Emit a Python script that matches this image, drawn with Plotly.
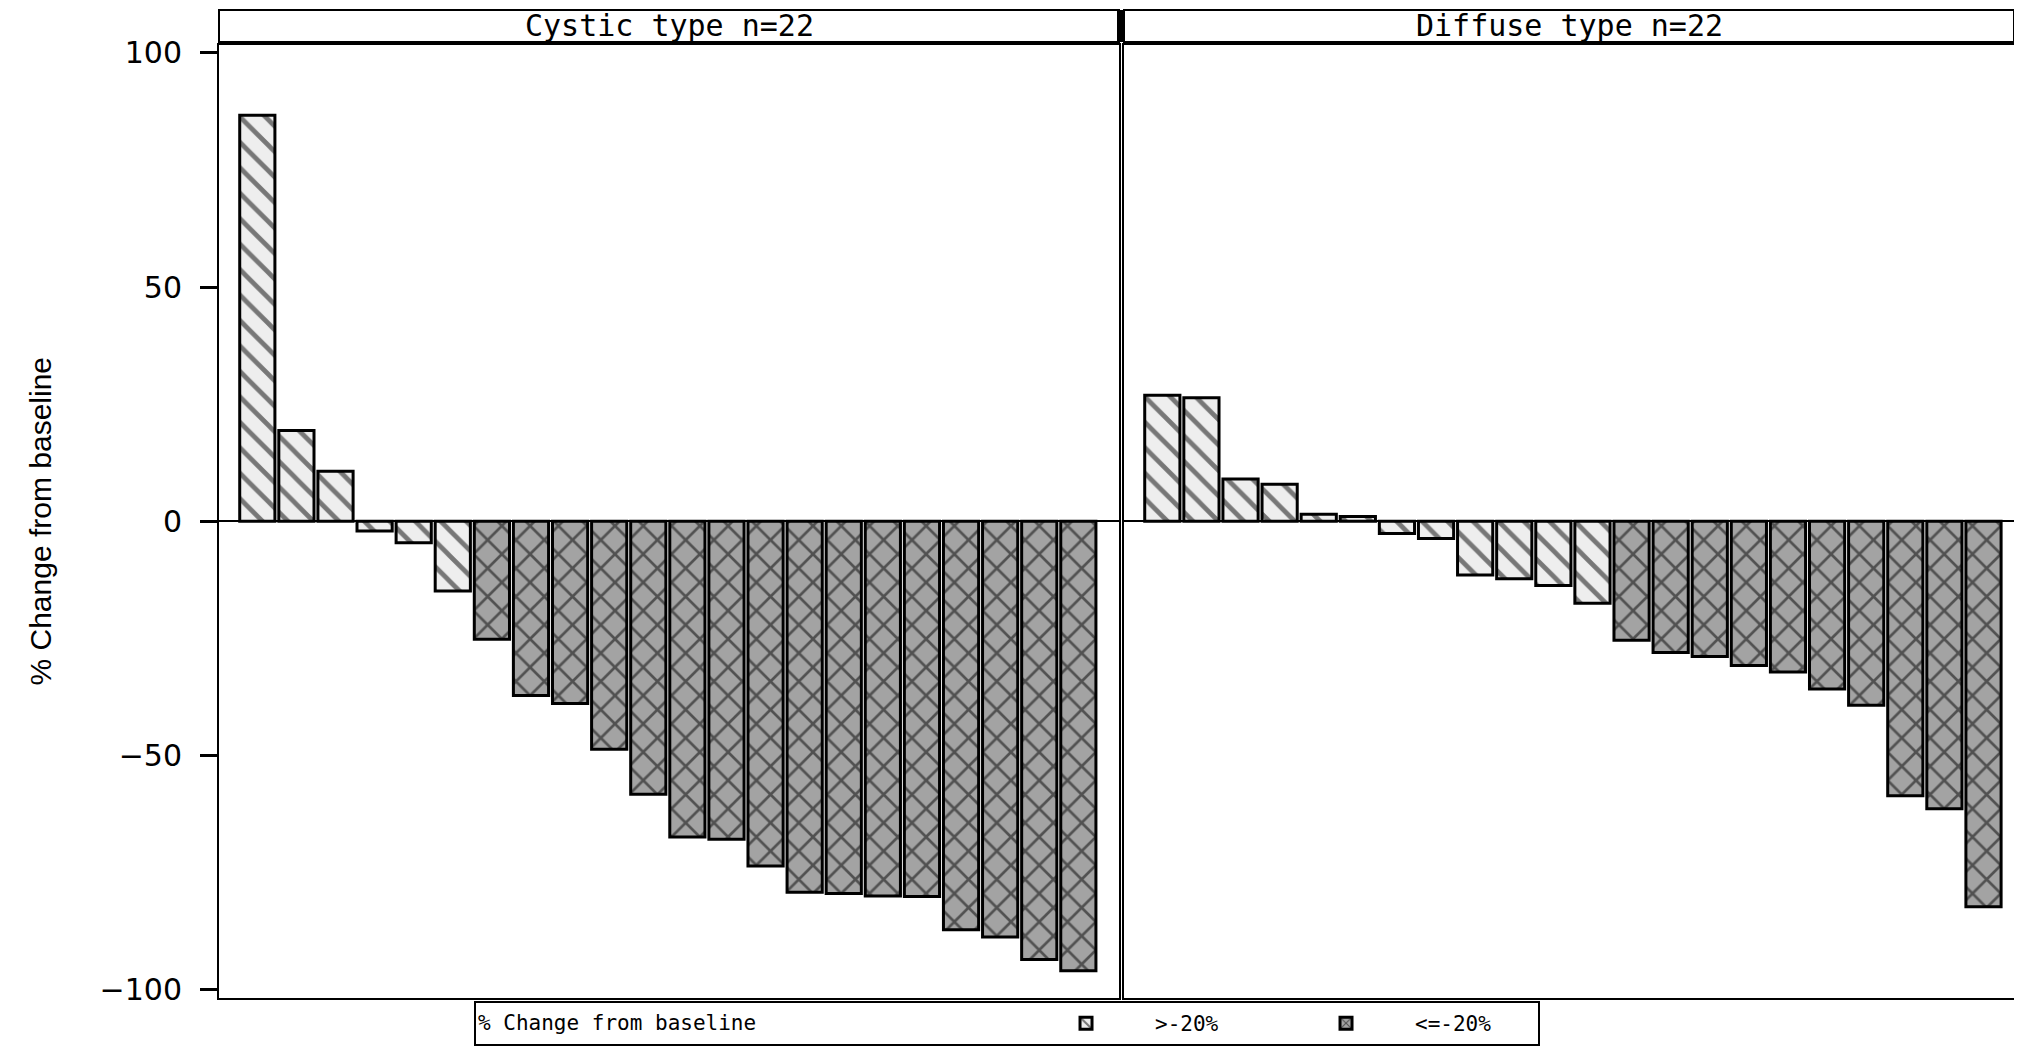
import plotly.graph_objects as go

# ---------------- data ----------------
panel_titles = ["Cystic type n=22", "Diffuse type n=22"]
cystic_change = [86.7, 19.4, 10.7, -2.1, -4.6, -14.9, -25.2, -37.2, -38.9, -48.7, -58.3,
                 -67.4, -67.9, -73.6, -79.2, -79.5, -80.0, -80.1, -87.2, -88.8, -93.6, -96.0]
diffuse_change = [26.9, 26.4, 9.0, 7.9, 1.5, 1.0, -2.6, -3.7, -11.5, -12.3, -13.7, -17.5,
                  -25.4, -28.0, -28.9, -30.8, -32.2, -35.8, -39.3, -58.6, -61.4, -82.3]
threshold = -20
category_labels = [">-20%", "<=-20%"]
legend_title = "% Change from baseline"
y_title = "% Change from baseline"
y_ticks = [-100, -50, 0, 50, 100]

# ---------------- styles ----------------
styles = {
    ">-20%": dict(color="#eeeeee",
                  pattern=dict(shape="\\", fgcolor="black", bgcolor="#eeeeee",
                               size=18, solidity=0.26),
                  line=dict(color="black", width=3)),
    "<=-20%": dict(color="#a3a3a3",
                   pattern=dict(shape="x", fgcolor="black", bgcolor="#a3a3a3",
                                size=20, solidity=0.25),
                   line=dict(color="black", width=3)),
}

fig = go.Figure()
series = [cystic_change, diffuse_change]
for p, values in enumerate(series):
    xa = "x" if p == 0 else "x2"
    ya = "y" if p == 0 else "y2"
    for c, lab in enumerate(category_labels):
        xs, ys = [], []
        for i, v in enumerate(values):
            is_low = v <= threshold
            if (c == 1) == is_low:
                xs.append(i + 1)
                ys.append(v)
        fig.add_trace(go.Bar(x=xs, y=ys, name=lab, legendgroup=lab,
                             showlegend=(p == 0), marker=styles[lab],
                             xaxis=xa, yaxis=ya))

# page body adds an 8px margin, so layout coords = reference coords - 8
W, H = 2006, 1038
ml, mr, mt, mb = 211, 0, 37, 48
pw = W - ml - mr
ph = H - mt - mb

left_dom = [0, 900 / pw]
right_dom = [905 / pw, 1]

axis_common = dict(showline=True, linecolor="black", linewidth=2, mirror=True,
                   showgrid=False)
fig.update_layout(
    width=W, height=H,
    margin=dict(l=ml, r=mr, t=mt, b=mb, autoexpand=False),
    paper_bgcolor="white", plot_bgcolor="white",
    bargap=0.1, barmode="overlay",
    xaxis=dict(domain=left_dom, range=[0.02, 23.04], showticklabels=False,
               ticks="", zeroline=False, **axis_common),
    xaxis2=dict(domain=right_dom, range=[0.02, 22.78], showticklabels=False,
                ticks="", zeroline=False, **axis_common),
    yaxis=dict(domain=[0, 1], range=[-101.8, 101.7], tickvals=y_ticks,
               ticks="outside", ticklen=17, tickwidth=2.5, tickcolor="black",
               ticklabelstandoff=12,
               tickfont=dict(family="DejaVu Sans", size=30, color="black"),
               zeroline=True, zerolinecolor="black", zerolinewidth=2,
               **axis_common),
    yaxis2=dict(domain=[0, 1], range=[-101.8, 101.7], anchor="x2",
                showticklabels=False, ticks="",
                zeroline=True, zerolinecolor="black", zerolinewidth=2,
                **axis_common),
    legend=dict(orientation="h", x=(466 - ml) / pw, xanchor="left",
                y=-(993 - (H - mb)) / ph, yanchor="top",
                bordercolor="black", borderwidth=2, bgcolor="white",
                font=dict(family="DejaVu Sans Mono", size=21, color="black"),
                title=dict(text=legend_title + "\u00a0" * 20, side="left",
                           font=dict(family="DejaVu Sans Mono", size=21, color="black")),
                traceorder="normal", itemwidth=128, entrywidth=117),
)

# strip headers
strip_bottom = 1 + 3 / ph
strip_top = 1 + 35 / ph
for dom, title in zip([left_dom, right_dom], panel_titles):
    fig.add_shape(type="rect", xref="paper", yref="paper",
                  x0=dom[0], x1=dom[1], y0=strip_bottom, y1=strip_top,
                  line=dict(color="black", width=2), fillcolor="white", layer="above")
    fig.add_annotation(xref="paper", yref="paper", x=(dom[0] + dom[1]) / 2,
                       y=(strip_bottom + strip_top) / 2, text=title, showarrow=False,
                       xanchor="center", yanchor="middle",
                       font=dict(family="DejaVu Sans Mono", size=30, color="black"))
fig.add_shape(type="rect", xref="paper", yref="paper",
              x0=(1109 - ml) / pw, x1=(1117 - ml) / pw, y0=strip_bottom, y1=strip_top,
              line=dict(width=0), fillcolor="black", layer="above")

# y-axis title
fig.add_annotation(xref="paper", yref="paper", x=(32 - ml) / pw, y=0.5,
                   text=y_title, textangle=-90, showarrow=False,
                   xanchor="center", yanchor="middle",
                   font=dict(family="Liberation Sans", size=30, color="black"))

fig.write_html("out.html")
